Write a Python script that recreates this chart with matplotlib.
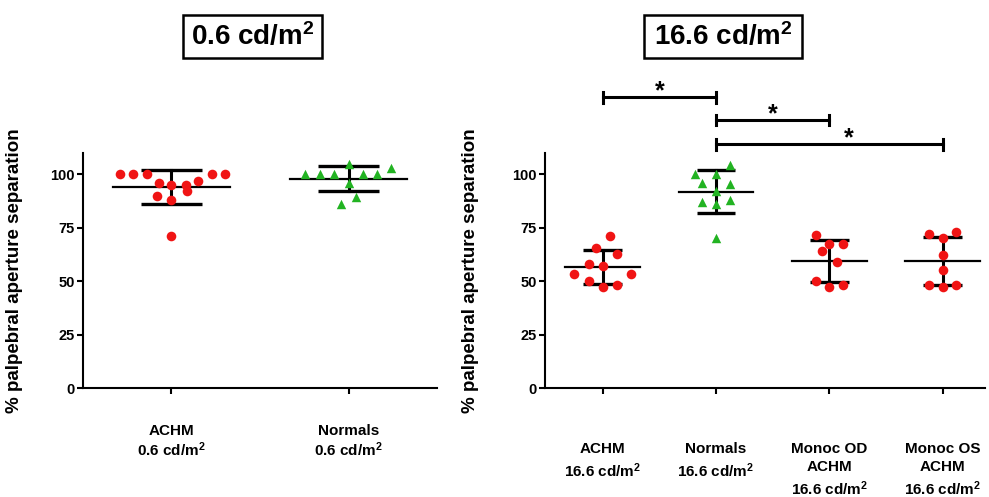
"""Palpebral aperture separation at two luminance levels (mean +/- SD scatter)."""

import matplotlib
matplotlib.use("Agg")
import matplotlib.pyplot as plt
import numpy as np
from matplotlib.patches import Rectangle

plt.rcParams["font.family"] = ["Liberation Sans", "DejaVu Sans"]
plt.rcParams["font.weight"] = "bold"
plt.rcParams["mathtext.fontset"] = "custom"
plt.rcParams["mathtext.rm"] = "Liberation Sans:bold"
plt.rcParams["mathtext.it"] = "Liberation Sans:bold"
plt.rcParams["mathtext.bf"] = "Liberation Sans:bold"

# ---- data ----
dim_labels = ["ACHM\n0.6 cd/m$^{2}$", "Normals\n0.6 cd/m$^{2}$"]
achm_dim = [100, 100, 100, 100, 100, 96, 97, 95, 95, 92, 90, 88, 71]
achm_dim_dx = [-0.29, -0.22, -0.14, 0.23, 0.30, -0.07, 0.15, 0.0, 0.08, 0.085, -0.08, 0.0, 0.0]
normals_dim = [105, 103, 100, 100, 100, 100, 100, 96, 89.5, 86]
normals_dim_dx = [0.0, 0.24, -0.245, -0.16, -0.08, 0.08, 0.16, 0.0, 0.04, -0.04]

bright_labels = ["ACHM\n16.6 cd/m$^{2}$", "Normals\n16.6 cd/m$^{2}$",
                 "Monoc OD\nACHM\n16.6 cd/m$^{2}$", "Monoc OS\nACHM\n16.6 cd/m$^{2}$"]
achm_bright = [71, 65.3, 62.9, 58, 57, 53.2, 53.2, 49.9, 47.3, 48.2]
achm_bright_dx = [0.06, -0.06, 0.125, -0.125, 0.0, -0.25, 0.25, -0.125, 0.0, 0.125]
normals_bright = [104.2, 100.3, 100.3, 96.1, 95.3, 92.2, 87.2, 87.9, 85.9, 70]
normals_bright_dx = [0.12, -0.19, 0.0, -0.125, 0.12, 0.0, -0.125, 0.12, 0.0, 0.0]
monoc_od = [71.4, 67.5, 67.5, 64, 59, 50.2, 47.1, 48.2]
monoc_od_dx = [-0.12, 0.0, 0.12, -0.066, 0.065, -0.12, 0.0, 0.12]
monoc_os = [72.3, 72.9, 70, 62.4, 55.1, 48.4, 47.1, 48.4]
monoc_os_dx = [-0.12, 0.12, 0.0, 0.0, 0.0, -0.12, 0.0, 0.12]

# significance brackets: (from group, to group, bracket height)
sig_pairs = [(0, 1, 136), (1, 2, 125.5), (1, 3, 114)]
sig_star_x = [0.5, 1.5, 2.17]

titles = ["0.6 cd/m$^{2}$", "16.6 cd/m$^{2}$"]

RED = "#f01414"
GREEN = "#22b322"


def draw_group(ax, x, values, dx, marker, color, size):
    v = np.asarray(values, dtype=float)
    m, s = v.mean(), v.std(ddof=1)
    ax.plot([x - 0.33, x + 0.33], [m, m], color="black", lw=1.6, zorder=2)
    ax.plot([x, x], [m - s, m + s], color="black", lw=2.2, zorder=2)
    for yy in (m - s, m + s):
        ax.plot([x - 0.17, x + 0.17], [yy, yy], color="black", lw=2.4,
                solid_capstyle="butt", zorder=2)
    ax.scatter(x + np.asarray(dx), v, marker=marker, s=size, color=color,
               linewidths=0, zorder=3)


def style_axis(ax, labels, xlim, pad, spacing):
    for side in ("top", "right"):
        ax.spines[side].set_visible(False)
    for side in ("left", "bottom"):
        ax.spines[side].set_linewidth(1.5)
    ax.set_xlim(*xlim)
    ax.set_ylim(0, 110)
    ax.set_yticks([0, 25, 50, 75, 100])
    ax.set_xticks(range(len(labels)))
    ax.set_xticklabels(labels, fontsize=11, fontweight="bold", linespacing=spacing)
    ax.tick_params(axis="both", width=1.5, length=4, direction="out")
    ax.tick_params(axis="y", labelsize=10.5, pad=2)
    ax.tick_params(axis="x", pad=pad)
    ax.set_ylabel("% palpebral aperture separation", fontsize=13.5, fontweight="bold")


fig = plt.figure(figsize=(9.89, 4.97), dpi=100)
ax1 = fig.add_axes([0.0839, 0.2193, 0.358, 0.4729])
ax2 = fig.add_axes([0.551, 0.2193, 0.445, 0.4729])

draw_group(ax1, 0, achm_dim, achm_dim_dx, "o", RED, 48)
draw_group(ax1, 1, normals_dim, normals_dim_dx, "^", GREEN, 46)
style_axis(ax1, dim_labels, (-0.5, 1.5), 22, 1.15)
ax1.yaxis.set_label_coords(-0.17, 0.5)

draw_group(ax2, 0, achm_bright, achm_bright_dx, "o", RED, 48)
draw_group(ax2, 1, normals_bright, normals_bright_dx, "^", GREEN, 46)
draw_group(ax2, 2, monoc_od, monoc_od_dx, "o", RED, 48)
draw_group(ax2, 3, monoc_os, monoc_os_dx, "o", RED, 48)
style_axis(ax2, bright_labels, (-0.51, 3.374), 35, 1.35)
ax2.yaxis.set_label_coords(-0.15, 0.5)

for (i, j, y), sx in zip(sig_pairs, sig_star_x):
    ax2.plot([i, j], [y, y], color="black", lw=2.2, clip_on=False)
    for end in (i, j):
        ax2.plot([end, end], [y - 2.4, y + 2.4], color="black", lw=2.2, clip_on=False)
    ax2.text(sx, y - 0.5, "*", fontsize=18, fontweight="bold", ha="center",
             va="baseline", clip_on=False)

# boxed panel titles
for x0, w, cx, title in [(0.185, 0.1405, 0.2553, titles[0]),
                          (0.6512, 0.1598, 0.731, titles[1])]:
    fig.patches.append(Rectangle((x0, 0.8833), w, 0.0865, transform=fig.transFigure,
                                 facecolor="white", edgecolor="black", lw=1.8))
    fig.text(cx, 0.9256, title, fontsize=20, fontweight="bold", ha="center", va="center")

fig.savefig("out.png", dpi=100)
plt.close(fig)
